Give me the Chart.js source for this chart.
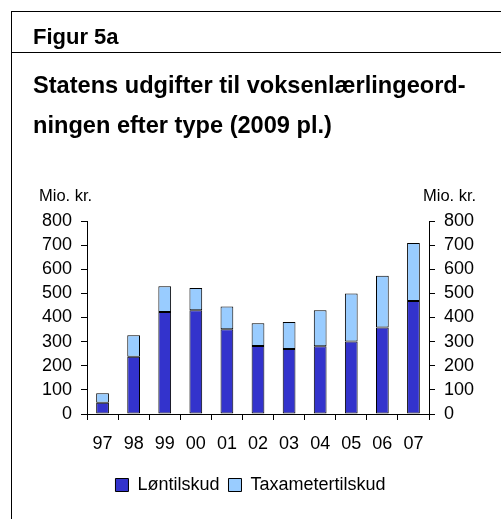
<!DOCTYPE html>
<html>
<head>
<meta charset="utf-8">
<script src="https://cdn.jsdelivr.net/npm/chart.js@4/dist/chart.umd.min.js"></script>
<style>
  html, body { margin: 0; padding: 0; background: #fff; }
  #wrap { position: relative; width: 501px; height: 519px; overflow: hidden; font-family: "Liberation Sans", Arial, sans-serif; color: #000; }
  #wrap canvas { position: absolute; left: 0; top: 0; }
  .line { position: absolute; background: #000; }
  .txt { position: absolute; white-space: nowrap; line-height: 1; }
</style>
</head>
<body>
<div id="wrap">
  <canvas id="c" width="501" height="519"></canvas>
  <div class="line" style="left:11px; top:11px; width:490px; height:1px;"></div>
  <div class="line" style="left:11px; top:52px; width:490px; height:1px;"></div>
  <div class="line" style="left:11px; top:11px; width:1px; height:508px;"></div>
  <div class="txt" style="left:33px; top:26px; font-size:22px; font-weight:bold;">Figur 5a</div>
  <div class="txt" style="left:33px; top:74px; font-size:23.6px; font-weight:bold;">Statens udgifter til voksenlærlingeord-</div>
  <div class="txt" style="left:33px; top:114px; font-size:23.6px; font-weight:bold;">ningen efter type (2009 pl.)</div>
  <div class="txt" style="left:39px; top:187px; font-size:16.5px;">Mio. kr.</div>
  <div class="txt" style="left:423px; top:187px; font-size:16.5px;">Mio. kr.</div>
</div>
<script>
const categories = ["97", "98", "99", "00", "01", "02", "03", "04", "05", "06", "07"];
const loentilskud = [47, 237, 423, 430, 351, 282, 269, 281, 301, 359, 468];
const taxametertilskud = [39, 89, 107, 92, 95, 94, 112, 149, 198, 214, 241];
const seriesNames = ["Løntilskud", "Taxametertilskud"];
const yTicks = [0, 100, 200, 300, 400, 500, 600, 700, 800];

const tickFont = { family: "'Liberation Sans', Arial, sans-serif", size: 18 };

function yScale(position) {
  return {
    position: position,
    stacked: true,
    min: yTicks[0],
    max: yTicks[yTicks.length - 1],
    afterBuildTicks: s => { s.ticks = yTicks.map(v => ({ value: v })); },
    ticks: { color: "#000", font: tickFont, padding: 9, autoSkip: false },
    grid: { drawOnChartArea: false, drawTicks: true, tickLength: 6, color: "#000", tickColor: "#000" },
    border: { display: true, color: "#000", width: 1 },
    afterFit: s => { s.width = position === "left" ? 87 : 72; }
  };
}

new Chart(document.getElementById("c"), {
  type: "bar",
  data: {
    labels: categories,
    datasets: [
      { label: seriesNames[0], data: loentilskud, backgroundColor: "#3333CC", borderColor: "#000", borderWidth: 1, borderSkipped: false, barPercentage: 0.41, categoryPercentage: 1, yAxisID: "y" },
      { label: seriesNames[1], data: taxametertilskud, backgroundColor: "#99CCFF", borderColor: "#000", borderWidth: 1, borderSkipped: false, barPercentage: 0.41, categoryPercentage: 1, yAxisID: "y" }
    ]
  },
  options: {
    responsive: false,
    animation: false,
    devicePixelRatio: 1,
    layout: { padding: { left: 0, right: 0, top: 221, bottom: 15 } },
    plugins: {
      legend: {
        position: "bottom",
        labels: { color: "#000", font: tickFont, boxWidth: 13, boxHeight: 13, padding: 9, useBorderRadius: false }
      },
      tooltip: { enabled: false }
    },
    scales: {
      x: {
        stacked: true,
        ticks: { color: "#000", font: tickFont, padding: 13, maxRotation: 0, autoSkip: false },
        grid: { offset: true, drawOnChartArea: false, drawTicks: true, tickLength: 6, color: "#000", tickColor: "#000" },
        border: { display: true, color: "#000", width: 1 },
        afterFit: s => { s.height = 53; }
      },
      y: yScale("left"),
      y2: Object.assign(yScale("right"), { stacked: false })
    }
  }
});
</script>
</body>
</html>
